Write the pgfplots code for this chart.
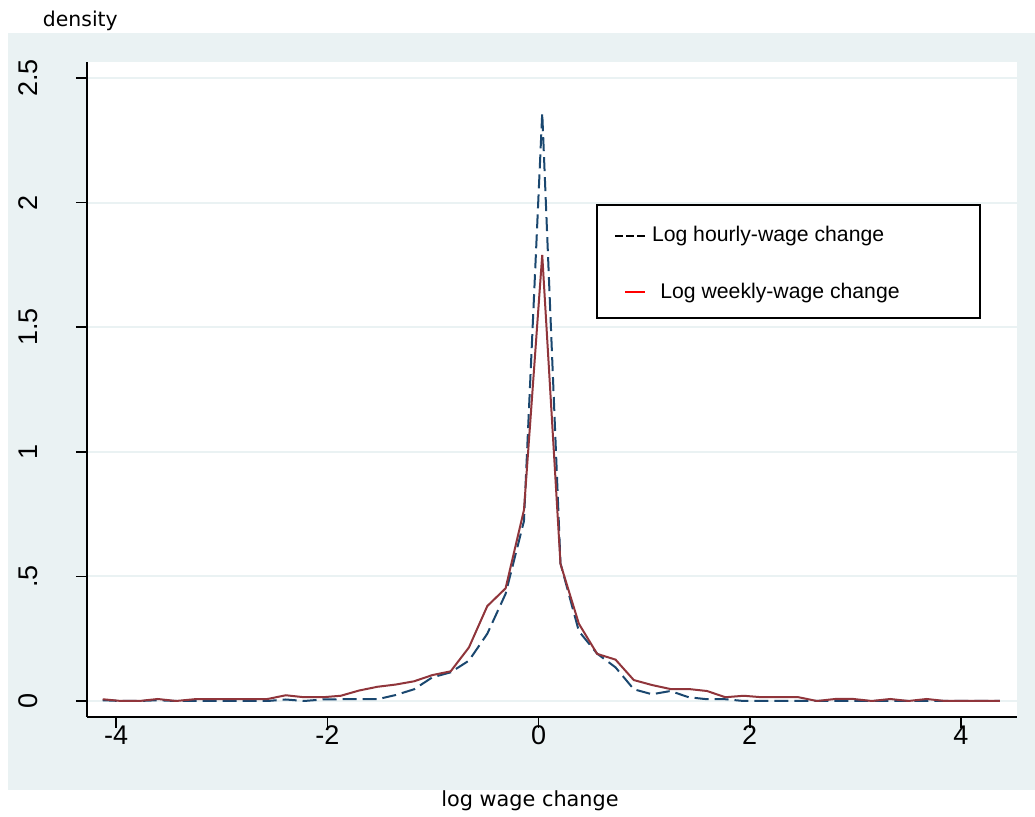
\documentclass[border=0pt]{standalone}
\usepackage{fontspec}
\setmainfont{Liberation Sans}
\newfontfamily\verdana{DejaVu Sans}
\usepackage{pgfplots}
\pgfplotsset{compat=1.18}
\definecolor{bgblue}{RGB}{234,242,243}
\definecolor{stnavy}{RGB}{26,71,111}
\definecolor{stmaroon}{RGB}{144,53,59}

\begin{document}
\begin{tikzpicture}
\path[use as bounding box] (-43.5pt,-50pt) rectangle (474pt,358.5pt);
% graph region
\fill[bgblue] (-39.5pt,-36.5pt) rectangle (474pt,342pt);
\begin{axis}[
    scale only axis,
    width=465pt, height=327.5pt,
    xmin=-4.276, xmax=4.531,
    ymin=-0.0642, ymax=2.564,
    axis x line*=bottom, axis y line*=left,
    axis line style={line width=0.8pt},
    axis background/.style={fill=white},
    tick align=outside,
    major tick length=5.5pt,
    tick style={line width=0.8pt, black},
    xtick={-4,-2,0,2,4}, xticklabels={-4,-2,0,2,4},
    ytick={0,0.5,1,1.5,2,2.5}, yticklabels={0,.5,1,1.5,2,2.5},
    ticklabel style={font=\fontsize{13.5}{16}\selectfont},
    yticklabel style={rotate=90, anchor=base},
    xticklabel style={anchor=base},
    yticklabel shift=19pt,
    xticklabel shift=8.5pt,
    ymajorgrids,
    grid style={bgblue, line width=1pt},
]
% log hourly-wage change
\addplot[stnavy, line width=1pt, dash pattern=on 7pt off 3pt] coordinates {
(-4.127,0.003) (-3.953,0.000) (-3.780,0.000) (-3.606,0.003) (-3.433,0.000)
(-3.260,0.000) (-3.086,0.000) (-2.913,0.000) (-2.739,0.000) (-2.566,0.000)
(-2.393,0.006) (-2.219,0.000) (-2.046,0.006) (-1.872,0.007) (-1.699,0.007)
(-1.526,0.007) (-1.352,0.024) (-1.179,0.047) (-1.005,0.095) (-0.832,0.115)
(-0.659,0.162) (-0.485,0.270) (-0.312,0.430) (-0.138,0.722) (0.035,2.360)
(0.208,0.552) (0.382,0.280) (0.555,0.190) (0.729,0.135) (0.902,0.047)
(1.075,0.027) (1.249,0.040) (1.422,0.015) (1.596,0.007) (1.769,0.007)
(1.942,0.000) (2.116,0.000) (2.289,0.000) (2.463,0.000) (2.636,0.000)
(2.809,0.000) (2.983,0.000) (3.156,0.000) (3.330,0.000) (3.503,0.000)
(3.676,0.000) (3.850,0.000) (4.023,0.000) (4.197,0.000) (4.370,0.000)
};
% log weekly-wage change
\addplot[stmaroon, line width=1pt] coordinates {
(-4.127,0.007) (-3.953,0.000) (-3.780,0.000) (-3.606,0.008) (-3.433,0.000)
(-3.260,0.007) (-3.086,0.007) (-2.913,0.007) (-2.739,0.007) (-2.566,0.008)
(-2.393,0.023) (-2.219,0.015) (-2.046,0.015) (-1.872,0.021) (-1.699,0.042)
(-1.526,0.057) (-1.352,0.066) (-1.179,0.079) (-1.005,0.104) (-0.832,0.119)
(-0.659,0.215) (-0.485,0.381) (-0.312,0.452) (-0.138,0.766) (0.035,1.790)
(0.208,0.550) (0.382,0.310) (0.555,0.189) (0.729,0.166) (0.902,0.084)
(1.075,0.064) (1.249,0.048) (1.422,0.048) (1.596,0.040) (1.769,0.015)
(1.942,0.021) (2.116,0.015) (2.289,0.015) (2.463,0.015) (2.636,0.000)
(2.809,0.008) (2.983,0.008) (3.156,0.000) (3.330,0.008) (3.503,0.000)
(3.676,0.008) (3.850,0.000) (4.023,0.000) (4.197,0.000) (4.370,0.000)
};
\end{axis}
% axis titles
\node[anchor=base west, inner sep=0pt, font=\verdana\fontsize{10.2}{12}\selectfont] at (-22.2pt,345pt) {density};
\node[anchor=base, inner sep=0pt, font=\verdana\fontsize{10.4}{12}\selectfont] at (221.5pt,-45pt) {log wage change};
% legend
\filldraw[fill=white, draw=black, line width=1pt] (255pt,199.5pt) rectangle (446.5pt,256pt);
\draw[black, line width=0.9pt, dash pattern=on 4pt off 1.5pt] (264pt,240.6pt) -- (279pt,240.6pt);
\node[anchor=base west, inner sep=0pt, font=\fontsize{10.6}{12}\selectfont] at (282.3pt,237.6pt) {Log hourly-wage change};
\draw[red, line width=1pt] (269pt,212.6pt) -- (279pt,212.6pt);
\node[anchor=base west, inner sep=0pt, font=\fontsize{10.6}{12}\selectfont] at (286.5pt,209pt) {Log weekly-wage change};
\end{tikzpicture}
\end{document}
